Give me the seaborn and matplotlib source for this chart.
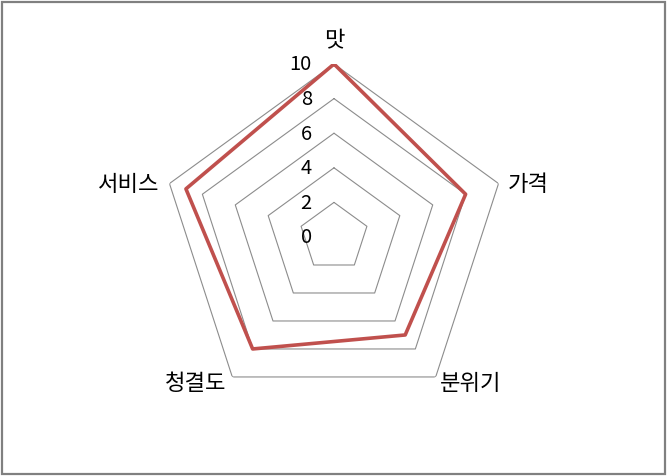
import numpy as np
import matplotlib
matplotlib.use("Agg")
import matplotlib.pyplot as plt
from matplotlib.patches import Rectangle
import seaborn as sns

# 데이터
categories = ["맛", "가격", "분위기", "청결도", "서비스"]
scores = [10, 8, 7, 8, 9]
ring_ticks = [0, 2, 4, 6, 8, 10]

sns.set_theme(style="white")
plt.rcParams["font.family"] = ["Noto Sans CJK KR", "DejaVu Sans"]

W, H = 668, 477
fig = plt.figure(figsize=(W / 100, H / 100), dpi=100, facecolor="white")

# 중심 (334, 238), 반지름 173px
cx, cy, R = 334 / W, 1 - 238 / H, 173
ax = fig.add_axes([cx - R / W, cy - R / H, 2 * R / W, 2 * R / H], projection="polar")
ax.set_theta_zero_location("N")
ax.set_theta_direction(-1)

n = len(categories)
angles = np.linspace(0, 2 * np.pi, n, endpoint=False)
closed_angles = np.append(angles, angles[0] + 2 * np.pi)

# 오각형 눈금선
for r in ring_ticks[1:]:
    ax.plot(closed_angles, [r] * (n + 1), color="#8c8c8c", lw=0.8, zorder=1)

# 데이터 선
sns.lineplot(x=closed_angles, y=scores + scores[:1], ax=ax, sort=False,
             color="#C0504D", lw=2.6, zorder=3)

ax.set_ylim(0, max(ring_ticks))
ax.grid(False)
ax.spines["polar"].set_visible(False)
ax.set_xticks([])
ax.set_yticks([])
ax.set_facecolor("none")

# 값 눈금 라벨
for r in ring_ticks:
    ax.annotate(str(r), xy=(0, r), xytext=(-16, 0), textcoords="offset points",
                ha="right", va="center", fontsize=14.5, color="black")

# 항목 라벨
for ang, lab in zip(angles, categories):
    s = np.sin(ang)
    c = np.cos(ang)
    if abs(s) < 1e-6:
        ha, va = "center", "bottom"
        off = (0, 9)
    elif c > 0:
        ha, va = ("left" if s > 0 else "right"), "center"
        off = (7 if s > 0 else -7, 0)
    else:
        ha, va = ("left" if s > 0 else "right"), "center"
        off = (3 if s > 0 else -4, -4)
    ax.annotate(lab, xy=(ang, max(ring_ticks)), xytext=off, textcoords="offset points",
                ha=ha, va=va, fontsize=16, color="black", annotation_clip=False)

# 차트 테두리
fig.patches.append(Rectangle((2 / W, 2 / H), 663 / W, 472 / H, transform=fig.transFigure,
                             fill=False, edgecolor="#808080", lw=1.6, zorder=10))

fig.savefig("out.png", dpi=100, facecolor="white")
